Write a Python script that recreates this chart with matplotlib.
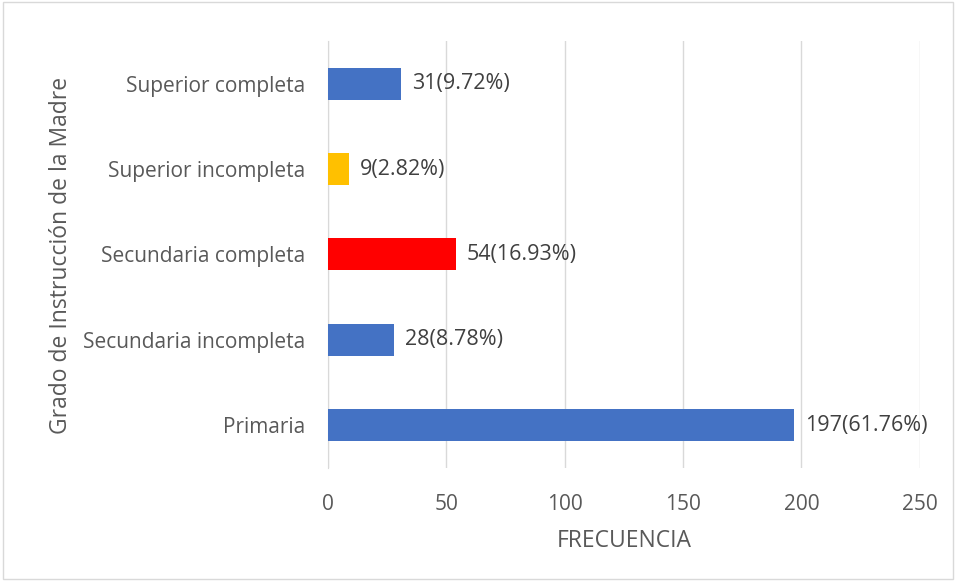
import matplotlib.pyplot as plt
from matplotlib.patches import Rectangle

# data
categorias = ['Primaria', 'Secundaria incompleta', 'Secundaria completa',
              'Superior incompleta', 'Superior completa']
frecuencia = [197, 28, 54, 9, 31]
porcentaje = [61.76, 8.78, 16.93, 2.82, 9.72]
colores = ['#4472C4', '#4472C4', '#FF0000', '#FFC000', '#4472C4']

plt.rcParams['font.family'] = ['Open Sans', 'DejaVu Sans']

fig = plt.figure(figsize=(9.56, 5.81), dpi=100)
ax = fig.add_axes([0.343, 0.1945, 0.619, 0.735])

y = range(len(categorias))
ax.barh(y, frecuencia, height=0.375, color=colores, zorder=3)

for i, (f, p) in enumerate(zip(frecuencia, porcentaje)):
    ax.text(f + 4.5, i, f'{f}({p:.2f}%)', va='center', ha='left',
            fontsize=15.5, color='#404040')

ax.set_yticks(list(y))
ax.set_yticklabels(categorias, fontsize=15, color='#595959')
ax.set_ylim(-0.5, 4.5)
ax.set_xlim(0, 250)
ax.set_xticks([0, 50, 100, 150, 200, 250])
ax.tick_params(axis='x', labelsize=15, labelcolor='#595959', length=0, pad=19)
ax.tick_params(axis='y', length=0, pad=16)

ax.grid(axis='x', color='#D9D9D9', linewidth=1, zorder=0)
for s in ['top', 'right', 'bottom']:
    ax.spines[s].set_visible(False)
ax.spines['left'].set_color('#D9D9D9')

ax.set_xlabel('FRECUENCIA', fontsize=16.5, color='#595959', labelpad=10)
fig.text(0.064, 0.56, 'Grado de Instrucción de la Madre', rotation=90,
         ha='center', va='center', fontsize=16.5, color='#595959')

# borde del grafico
fig.patches.append(Rectangle((0.003, 0.003), 0.994, 0.994, transform=fig.transFigure,
                             fill=False, edgecolor='#D9D9D9', linewidth=1))

plt.savefig('out.png', dpi=100)
